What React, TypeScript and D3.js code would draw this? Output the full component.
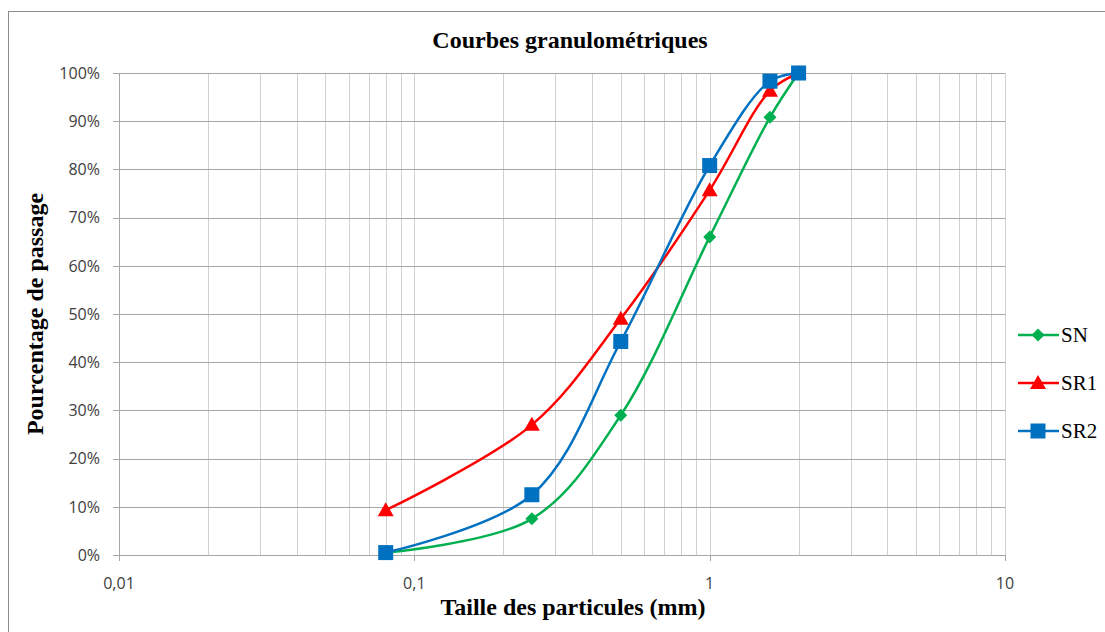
import React, { useEffect, useRef } from "react";
import * as d3 from "d3";

const sizes = [0.08, 0.25, 0.5, 1, 1.6, 2];
const snValues = [0.5, 7.5, 29, 66, 90.8, 100];
const sr1Values = [9.3, 27, 49, 75.7, 96.3, 100];
const sr2Values = [0.5, 12.5, 44.3, 80.8, 98.3, 100];
const seriesNames = ["SN", "SR1", "SR2"];
const seriesColors = ["#00B050", "#FF0000", "#0070C0"];
const seriesMarkers = ["diamond", "triangle", "square"];
const xTickValues = [0.01, 0.1, 1, 10];
const xTickLabels = ["0,01", "0,1", "1", "10"];
const yTickValues = [0, 10, 20, 30, 40, 50, 60, 70, 80, 90, 100];

const W = 1105;
const H = 632;

const App = () => {
  const svgRef = useRef<SVGSVGElement>(null);

  useEffect(() => {
    const svg = d3.select(svgRef.current);
    svg.selectAll("*").remove();

    const margin = { top: 73, right: 100, bottom: 77, left: 119 };
    const x = d3.scaleLog().domain([0.01, 10]).range([margin.left, W - margin.right]);
    const y = d3.scaleLinear().domain([0, 100]).range([H - margin.bottom, margin.top]);

    // outer chart frame
    svg
      .append("rect")
      .attr("x", 8.5)
      .attr("y", 11.5)
      .attr("width", W + 10)
      .attr("height", H + 10)
      .attr("fill", "#fff")
      .attr("stroke", "#8c8c8c")
      .attr("stroke-width", 1);

    // minor vertical grid
    const minor: number[] = [];
    for (let e = -2; e < 1; e++) {
      for (let m = 1; m <= 9; m++) {
        const v = m * Math.pow(10, e);
        if (v > 0.01) minor.push(v);
      }
    }
    minor.push(10);
    svg
      .append("g")
      .selectAll("line")
      .data(minor)
      .join("line")
      .attr("x1", (d) => Math.round(x(d)) + 0.5)
      .attr("x2", (d) => Math.round(x(d)) + 0.5)
      .attr("y1", y(100))
      .attr("y2", y(0))
      .attr("stroke", "#d0d0d0")
      .attr("stroke-width", 1);

    // horizontal grid
    svg
      .append("g")
      .selectAll("line")
      .data(yTickValues)
      .join("line")
      .attr("x1", x(0.01) - 6)
      .attr("x2", x(10))
      .attr("y1", (d) => Math.round(y(d)) + 0.5)
      .attr("y2", (d) => Math.round(y(d)) + 0.5)
      .attr("stroke", "#a6a6a6")
      .attr("stroke-width", 1);

    // y axis line
    svg
      .append("line")
      .attr("x1", Math.round(x(0.01)) + 0.5)
      .attr("x2", Math.round(x(0.01)) + 0.5)
      .attr("y1", y(100))
      .attr("y2", y(0))
      .attr("stroke", "#a6a6a6");

    // x axis ticks
    svg
      .append("g")
      .selectAll("line")
      .data(xTickValues)
      .join("line")
      .attr("x1", (d) => Math.round(x(d)) + 0.5)
      .attr("x2", (d) => Math.round(x(d)) + 0.5)
      .attr("y1", y(0))
      .attr("y2", y(0) + 6)
      .attr("stroke", "#a6a6a6");

    const tickFont = "'Open Sans', 'Liberation Sans', sans-serif";

    svg
      .append("g")
      .selectAll("text")
      .data(yTickValues)
      .join("text")
      .attr("x", x(0.01) - 19)
      .attr("y", (d) => y(d))
      .attr("dy", "0.36em")
      .attr("text-anchor", "end")
      .attr("font-family", tickFont)
      .attr("font-size", 16)
      .attr("fill", "#404040")
      .text((d) => d + "%");

    svg
      .append("g")
      .selectAll("text")
      .data(xTickValues)
      .join("text")
      .attr("x", (d) => x(d))
      .attr("y", y(0) + 34)
      .attr("text-anchor", "middle")
      .attr("font-family", tickFont)
      .attr("font-size", 16)
      .attr("fill", "#404040")
      .text((d, i) => xTickLabels[i]);

    const serif = "'Liberation Serif', 'DejaVu Serif', serif";

    svg
      .append("text")
      .attr("x", 570)
      .attr("y", 48)
      .attr("text-anchor", "middle")
      .attr("font-family", serif)
      .attr("font-weight", "bold")
      .attr("font-size", 24)
      .attr("fill", "#000")
      .text("Courbes granulométriques");

    svg
      .append("text")
      .attr("x", 573)
      .attr("y", 615)
      .attr("text-anchor", "middle")
      .attr("font-family", serif)
      .attr("font-weight", "bold")
      .attr("font-size", 24)
      .attr("fill", "#000")
      .text("Taille des particules (mm)");

    svg
      .append("text")
      .attr("transform", "translate(43," + 314 + ") rotate(-90)")
      .attr("text-anchor", "middle")
      .attr("font-family", serif)
      .attr("font-weight", "bold")
      .attr("font-size", 24)
      .attr("fill", "#000")
      .text("Pourcentage de passage");

    const allValues = [snValues, sr1Values, sr2Values];
    const line = d3
      .line<[number, number]>()
      .x((d) => x(d[0]))
      .y((d) => y(d[1]))
      .curve(d3.curveCatmullRom.alpha(0.5));

    const drawMarker = (g: any, kind: string, color: string, cx: number, cy: number) => {
      if (kind === "diamond") {
        g.append("path")
          .attr("d", `M${cx},${cy - 6.5}L${cx + 6.5},${cy}L${cx},${cy + 6.5}L${cx - 6.5},${cy}Z`)
          .attr("fill", color);
      } else if (kind === "triangle") {
        g.append("path")
          .attr("d", `M${cx},${cy - 8}L${cx + 8},${cy + 6}L${cx - 8},${cy + 6}Z`)
          .attr("fill", color);
      } else {
        g.append("rect")
          .attr("x", cx - 7.5)
          .attr("y", cy - 7.5)
          .attr("width", 15)
          .attr("height", 15)
          .attr("fill", color);
      }
    };

    allValues.forEach((vals, si) => {
      const pts: [number, number][] = sizes.map((s, i) => [s, vals[i]]);
      const g = svg.append("g");
      g.append("path")
        .attr("d", line(pts))
        .attr("fill", "none")
        .attr("stroke", seriesColors[si])
        .attr("stroke-width", 2.5);
      pts.forEach((p) => drawMarker(g, seriesMarkers[si], seriesColors[si], x(p[0]), y(p[1])));
    });

    // legend
    const legendY = [335, 383, 431];
    seriesNames.forEach((name, i) => {
      const g = svg.append("g");
      g.append("line")
        .attr("x1", 1018)
        .attr("x2", 1059)
        .attr("y1", legendY[i])
        .attr("y2", legendY[i])
        .attr("stroke", seriesColors[i])
        .attr("stroke-width", 2.5);
      drawMarker(g, seriesMarkers[i], seriesColors[i], 1038, legendY[i]);
      g.append("text")
        .attr("x", 1061)
        .attr("y", legendY[i])
        .attr("dy", "0.35em")
        .attr("font-family", serif)
        .attr("font-size", 21)
        .attr("fill", "#000")
        .text(name);
    });
  }, []);

  return (
    <svg
      ref={svgRef}
      width={W}
      height={H}
      style={{ position: "absolute", left: 0, top: 0, background: "#fff" }}
    ></svg>
  );
};

export default App;
